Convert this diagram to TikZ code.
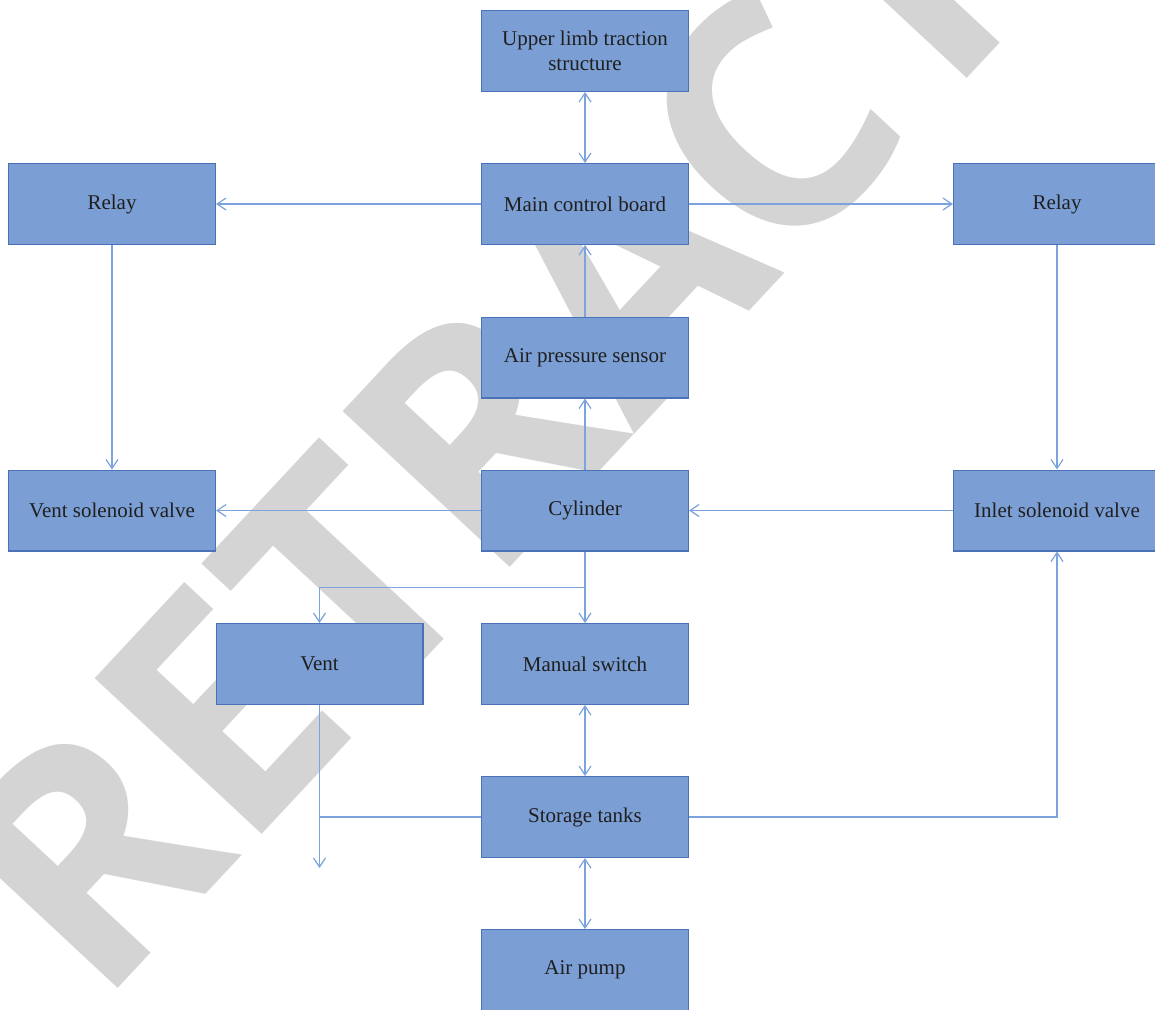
\documentclass[tikz,border=0pt]{standalone}
\usepackage{fontspec}
\setmainfont{Liberation Serif}
\newfontfamily\markfont{Open Sans}
\usetikzlibrary{arrows.meta}
\definecolor{boxblue}{RGB}{123,158,212}
\definecolor{boxedge}{RGB}{74,114,182}
\definecolor{linkblue}{RGB}{124,163,222}
\definecolor{markgray}{RGB}{212,212,212}

\begin{document}
\begin{tikzpicture}[x=0.5pt,y=-0.5pt,
    block/.style={draw=boxedge,fill=boxblue,line width=0.7pt,minimum width=103.3pt,
        minimum height=40.3pt,inner sep=0pt,align=center,text=black!88,
        font=\fontsize{10.5}{12.5}\selectfont},
    link/.style={draw=linkblue,line width=0.6pt,-{Straight Barb[length=4.5pt,width=6pt]}},
    twoway/.style={link,{Straight Barb[length=4.5pt,width=6pt]}-{Straight Barb[length=4.5pt,width=6pt]}}]
        \useasboundingbox (0,0) rectangle (1155,1009);

        % Watermark behind everything
        \node[rotate=47,anchor=base west,inner sep=0pt,text=markgray,
            font=\markfont\bfseries\fontsize{160}{160}\selectfont] (mark) at (98,1010) {RETRACTED};

        % Blocks
        \node[block] (limb) at (585,51) {Upper limb traction\\structure};
        \node[block] (board) at (585,204) {Main control board};
        \node[block] (relayL) at (112,204) {Relay};
        \node[block] (relayR) at (1057,204) {Relay};
        \node[block] (sensor) at (585,357.5) {Air pressure sensor};
        \node[block] (cyl) at (585,510.5) {Cylinder};
        \node[block] (ventvalve) at (112,510.5) {Vent solenoid valve};
        \node[block] (inletvalve) at (1057,510.5) {Inlet solenoid valve};
        \node[block] (vent) at (319.5,664) {Vent};
        \node[block] (switch) at (585,664) {Manual switch};
        \node[block] (tanks) at (585,817) {Storage tanks};
        \node[block] (pump) at (585,970) {Air pump};
        \coordinate (exhaust) at (319.5,868);

        % Connections
        \draw[twoway] (limb) -- (board);
        \draw[link] (board) -- (relayL);
        \draw[link] (board) -- (relayR);
        \draw[link] (sensor) -- (board);
        \draw[link] (cyl) -- (sensor);
        \draw[link] (relayL) -- (ventvalve);
        \draw[link] (relayR) -- (inletvalve);
        \draw[link] (cyl) -- (ventvalve);
        \draw[link] (inletvalve) -- (cyl);
        \draw[link] (cyl) -- (switch);
        \draw[link] (cyl.south) -- ++(0,36) -| (vent.north);
        \draw[twoway] (switch) -- (tanks);
        \draw[twoway] (tanks) -- (pump);
        \draw[link] (tanks.east) -| (inletvalve.south);
        \draw[link] (vent.south) -- (exhaust);
        \draw[draw=linkblue,line width=0.6pt] (tanks.west) -- (tanks.west -| exhaust);
\end{tikzpicture}
\end{document}
